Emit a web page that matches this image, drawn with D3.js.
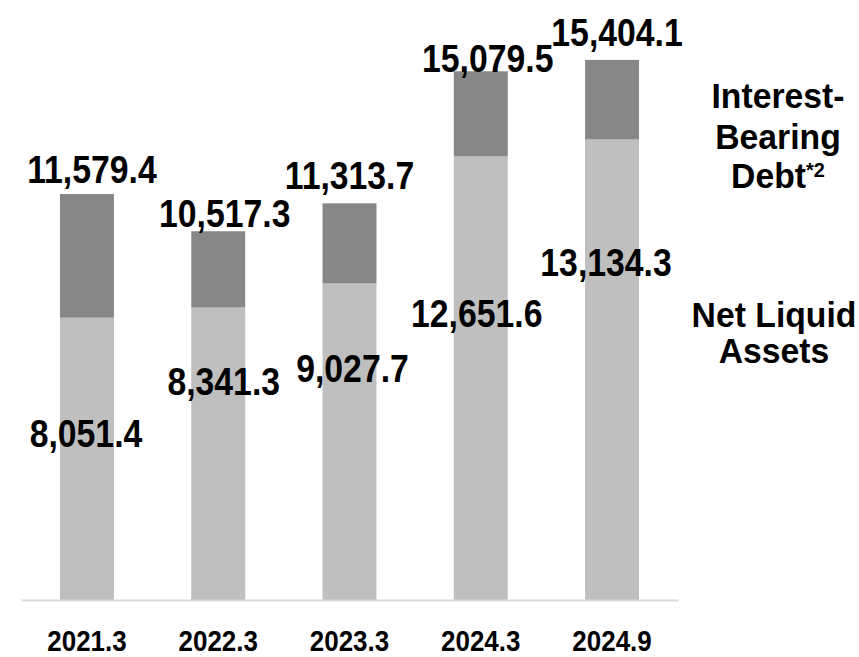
<!DOCTYPE html>
<html>
<head>
<meta charset="utf-8">
<script src="https://cdn.jsdelivr.net/npm/d3@7"></script>
<style>
  html, body { margin: 0; padding: 0; background: #fff; }
  svg { display: block; }
  .num { font-family: "Liberation Sans", Arial, sans-serif; font-weight: bold; fill: #000; }
  .leg { font-family: "Liberation Sans", Arial, sans-serif; font-weight: bold; fill: #000; }
</style>
</head>
<body>
<script>
// ---- data ----
const categories = ["2021.3", "2022.3", "2023.3", "2024.3", "2024.9"];
const netLiquidAssets = [8051.4, 8341.3, 9027.7, 12651.6, 13134.3];
const interestBearingDebt = [11579.4, 10517.3, 11313.7, 15079.5, 15404.1];
const legendDebt = ["Interest-", "Bearing", "Debt"];
const legendNet = ["Net Liquid", "Assets"];

// ---- layout (label nudges, px) ----
const topDx = [5, 6.5, 0, 7, 5];
const topDy = [-11, -4, -14, 1, -14];
const netDx = [-1, 5.5, 3, -4, -6];
const netDy = [129, 87.5, 98.5, 170.6, 136.5];
const numScale = 0.855;   // condensed look of the numbers
const tickScale = 0.88;
const legScale = 0.95;

const W = 859, H = 657;
const svg = d3.select("body").append("svg").attr("width", W).attr("height", H);

const x = d3.scaleBand().domain(categories).range([21, 678]).paddingInner(0.589).paddingOuter(0.297);
const y = d3.scaleLinear().domain([0, 16000]).range([600, 39]);

const data = categories.map((c, i) => ({ c, i, net: netLiquidAssets[i], total: interestBearingDebt[i] }));

// light segments (net liquid assets)
svg.selectAll("rect.net").data(data).enter().append("rect")
  .attr("class", "net")
  .attr("x", d => x(d.c)).attr("width", x.bandwidth())
  .attr("y", d => y(d.net)).attr("height", d => y(0) - y(d.net))
  .attr("fill", "#bfbfbf");

// dark segments (debt portion above net liquid)
svg.selectAll("rect.debt").data(data).enter().append("rect")
  .attr("class", "debt")
  .attr("x", d => x(d.c)).attr("width", x.bandwidth())
  .attr("y", d => y(d.total)).attr("height", d => y(d.net) - y(d.total))
  .attr("fill", "#878787");

// baseline axis
const xAxis = d3.axisBottom(x).tickSize(0).tickPadding(0);
const gx = svg.append("g").attr("transform", `translate(0,${y(0)})`).call(xAxis);
gx.select(".domain").attr("stroke", "#d9d9d9").attr("stroke-width", 2);
gx.selectAll(".tick text")
  .attr("y", 0).attr("dy", 0)
  .attr("transform", `translate(0,50.5) scale(${tickScale},1)`)
  .attr("font-size", 29.5)
  .style("font-family", '"Liberation Sans", Arial, sans-serif')
  .style("font-weight", "bold")
  .attr("fill", "#000");

const fmt = d3.format(",.1f");

// total labels
svg.selectAll("text.top").data(data).enter().append("text")
  .attr("class", "num top")
  .attr("font-size", 39.5)
  .attr("text-anchor", "middle")
  .attr("transform", d => `translate(${x(d.c) + x.bandwidth() / 2 + topDx[d.i]},${y(d.total) + topDy[d.i]}) scale(${numScale},1)`)
  .text(d => fmt(d.total));

// net liquid labels
svg.selectAll("text.netl").data(data).enter().append("text")
  .attr("class", "num netl")
  .attr("font-size", 39.5)
  .attr("text-anchor", "middle")
  .attr("transform", d => `translate(${x(d.c) + x.bandwidth() / 2 + netDx[d.i]},${y(d.net) + netDy[d.i]}) scale(${numScale},1)`)
  .text(d => fmt(d.net));

// legend
const legX = 778;
const debtBase = [108, 149, 188];
legendDebt.forEach((t, i) => {
  const tx = svg.append("text").attr("class", "leg").attr("font-size", 35.5)
    .attr("text-anchor", "middle")
    .attr("transform", `translate(${legX},${debtBase[i]}) scale(${legScale},1)`);
  tx.append("tspan").text(t);
  if (i === legendDebt.length - 1) {
    tx.append("tspan").attr("font-size", 21).attr("dy", -11).text("*2");
  }
});
const netBase = [327, 363];
legendNet.forEach((t, i) => {
  svg.append("text").attr("class", "leg").attr("font-size", 35.5)
    .attr("text-anchor", "middle")
    .attr("transform", `translate(${legX - 4},${netBase[i]}) scale(${legScale},1)`)
    .text(t);
});
</script>
</body>
</html>
